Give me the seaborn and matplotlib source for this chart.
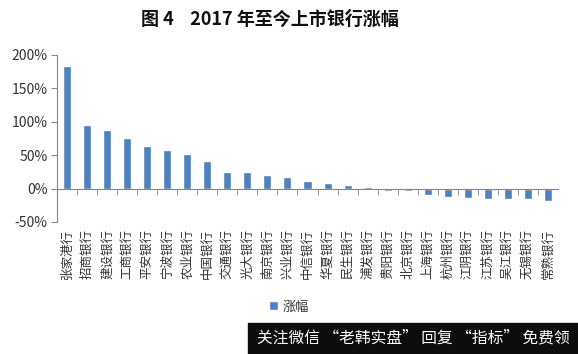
import matplotlib
matplotlib.use('Agg')
import matplotlib.pyplot as plt
import matplotlib.ticker as mticker
import seaborn as sns
import pandas as pd

# data (percent)
banks = ['张家港行', '招商银行', '建设银行', '工商银行', '平安银行', '宁波银行', '农业银行',
         '中国银行', '交通银行', '光大银行', '南京银行', '兴业银行', '中信银行', '华夏银行',
         '民生银行', '浦发银行', '贵阳银行', '北京银行', '上海银行', '杭州银行', '江阴银行',
         '江苏银行', '吴江银行', '无锡银行', '常熟银行']
gains = [184, 95, 87, 76, 63, 57, 51, 41, 25, 24, 20, 17, 12, 9, 5, 3,
         -4, -3, -10, -13, -14, -15, -16, -16, -18]
yticks = [-50, 0, 50, 100, 150, 200]

df = pd.DataFrame({'bank': banks, 'gain': gains})

sns.set_style('white')
plt.rcParams['font.family'] = ['Noto Sans CJK SC', 'DejaVu Sans']

fig = plt.figure(figsize=(5.78, 3.54), dpi=100)
ax = fig.add_axes([0.099, 0.373, 0.866, 0.472])

sns.barplot(data=df, x='bank', y='gain', color='#4F81BD', width=0.4,
            saturation=1, ax=ax, label='涨幅', legend=False)

ax.set_ylim(-50, 200)
ax.set_xlim(-0.5, len(banks) - 0.5)
ax.set_yticks(yticks)
ax.yaxis.set_major_formatter(mticker.FuncFormatter(lambda v, p: f'{v:.0f}%'))
ax.set_xlabel('')
ax.set_ylabel('')

for s in ['top', 'right']:
    ax.spines[s].set_visible(False)
ax.spines['left'].set_color('#868686')
ax.spines['bottom'].set_color('#868686')
ax.spines['bottom'].set_position(('data', 0))

ax.tick_params(axis='y', direction='out', length=4, color='#868686',
               labelsize=10, labelcolor='#333333', pad=3, left=True)
# category boundary ticks on the zero line
ax.set_xticks([i + 0.5 for i in range(len(banks) - 1)], minor=True)
ax.tick_params(axis='x', which='minor', direction='out', length=4, color='#868686', bottom=True)
ax.tick_params(axis='x', which='major', length=0, labelbottom=False)

# category labels under the plot area
for i, b in enumerate(banks):
    ax.text(i, -0.045, b, transform=ax.get_xaxis_transform(), rotation=90,
            ha='center', va='top', fontsize=9, color='#333333')

handles, labels = ax.get_legend_handles_labels()
fig.legend(handles[:1], labels[:1], loc='center', bbox_to_anchor=(0.5, 0.133),
           frameon=False, fontsize=9.5, handlelength=0.7, handleheight=0.7,
           handletextpad=0.3, labelcolor='#333333')

fig.text(0.467, 0.945, '图 4    2017 年至今上市银行涨幅', ha='center', va='center',
         fontsize=13, fontweight='bold', color='#111111')

# watermark banner at the bottom right
fig.patches.append(plt.Rectangle((0.429, 0.0), 0.571, 0.088, transform=fig.transFigure,
                                 color='#0d0d0d', zorder=5))
fig.text(0.716, 0.044, '关注微信 “老韩实盘” 回复 “指标” 免费领', ha='center', va='center',
         fontsize=11.3, color='white', zorder=6)

plt.savefig('out.png', dpi=100)
plt.close()
